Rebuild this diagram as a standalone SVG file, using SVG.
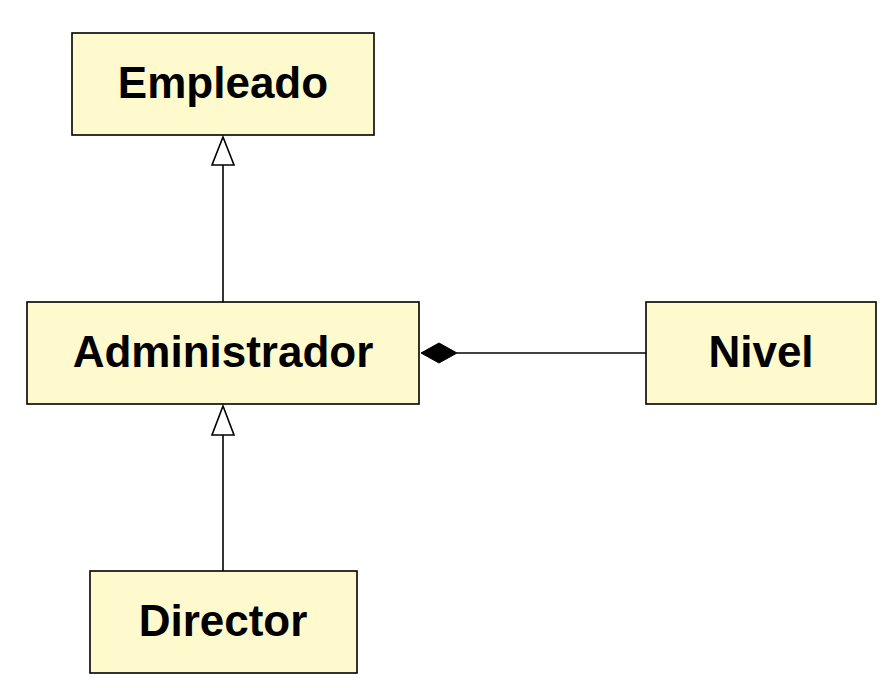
<svg xmlns="http://www.w3.org/2000/svg" width="882" height="688" viewBox="0 0 882 688">
<style>
.box{fill:#FFFACD;stroke:#000;stroke-width:1.6}
.lbl{font-family:"Liberation Sans",Arial,sans-serif;font-weight:bold;font-size:44px;text-anchor:middle;fill:#000}
.ln{stroke:#000;stroke-width:1.6;fill:none}
.tri{fill:#fff;stroke:#000;stroke-width:1.6}
.dia{fill:#000;stroke:#000;stroke-width:1}
</style>
<rect width="882" height="688" fill="#fff"/>
<g id="connectors">
<line class="ln" x1="223" y1="165" x2="223" y2="302"/>
<polygon class="tri" points="223,137 234,165 212,165"/>
<line class="ln" x1="223" y1="435" x2="223" y2="571"/>
<polygon class="tri" points="223,406 234,435 212,435"/>
<line class="ln" x1="457" y1="353" x2="646" y2="353"/>
<polygon class="dia" points="421,353 439,343 457,353 439,363"/>
</g>
<g id="Empleado">
<rect class="box" x="72" y="33" width="302" height="102"/>
<text class="lbl" x="223" y="98">Empleado</text>
</g>
<g id="Administrador">
<rect class="box" x="27" y="302" width="392" height="102"/>
<text class="lbl" x="223" y="367">Administrador</text>
</g>
<g id="Nivel">
<rect class="box" x="646" y="302" width="230" height="102"/>
<text class="lbl" x="761" y="367">Nivel</text>
</g>
<g id="Director">
<rect class="box" x="90" y="571" width="267" height="102"/>
<text class="lbl" x="223" y="636">Director</text>
</g>
</svg>
